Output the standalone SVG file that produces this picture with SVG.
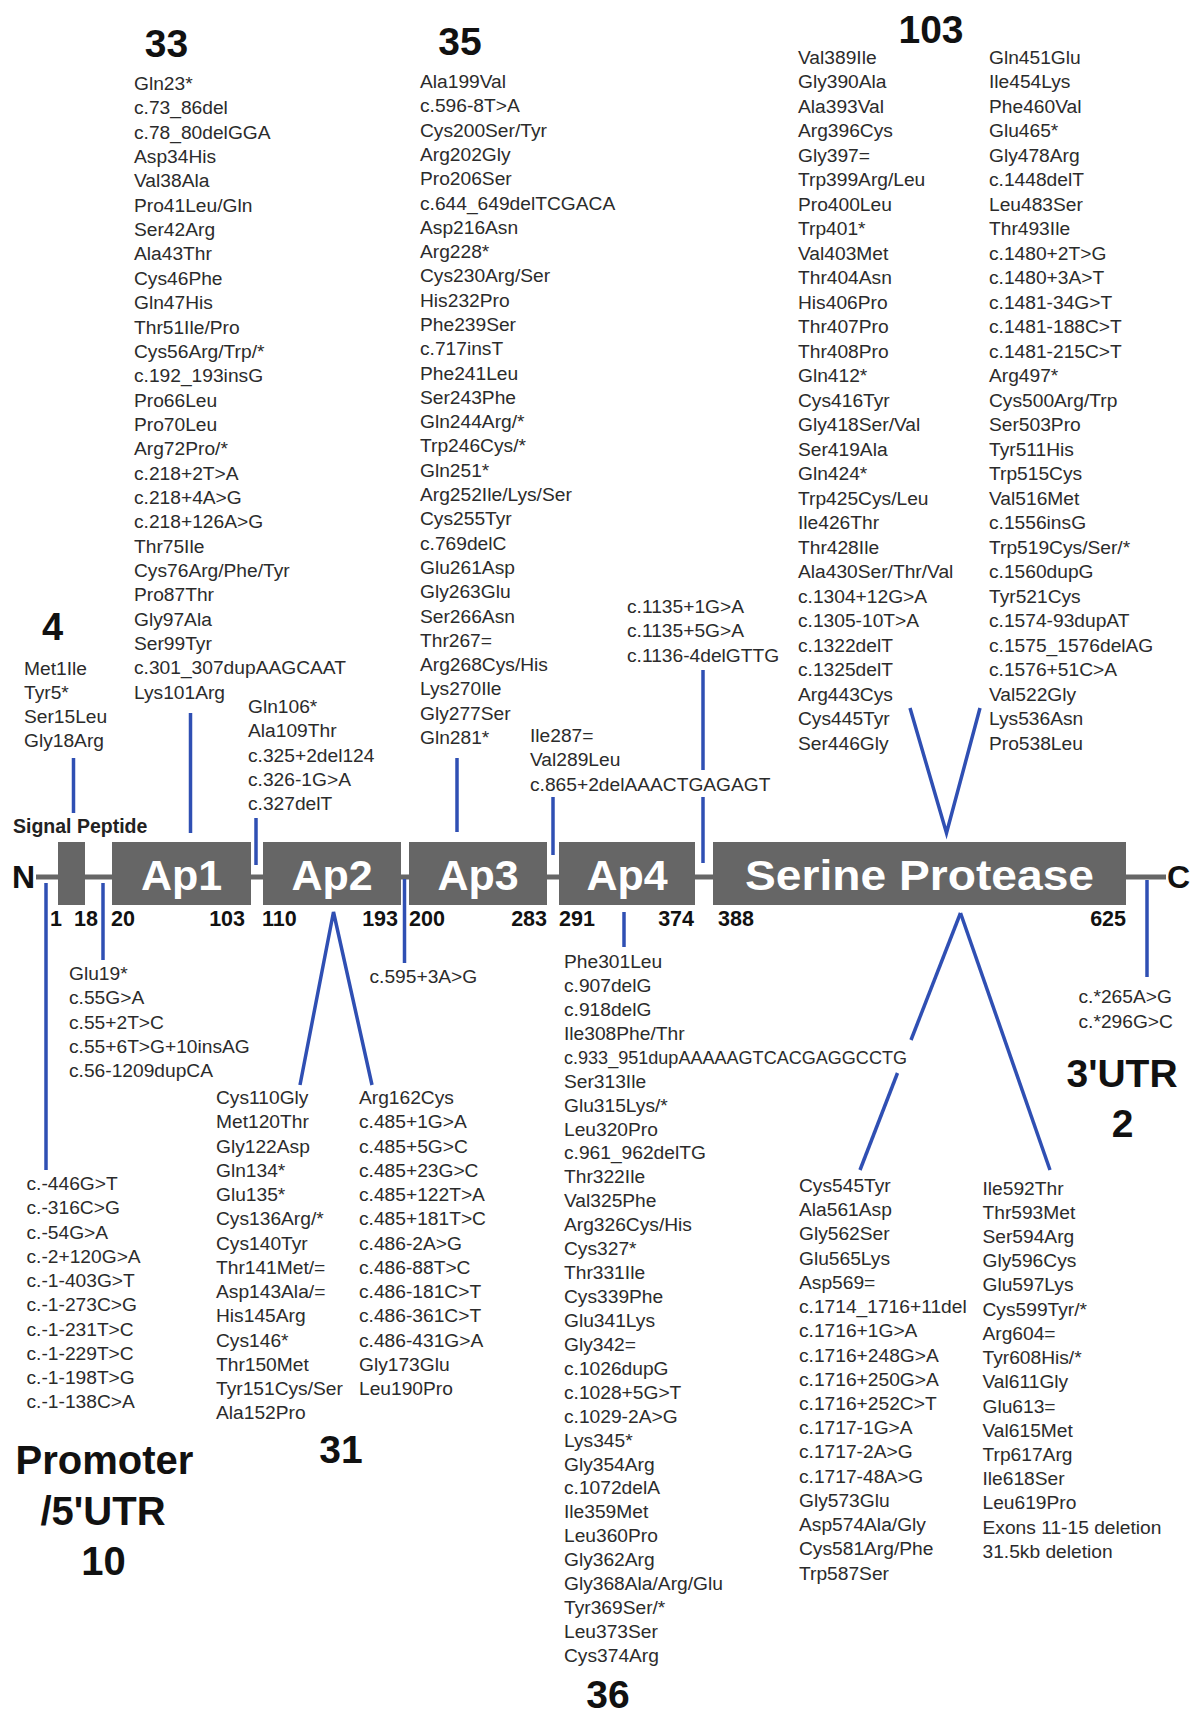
<svg xmlns="http://www.w3.org/2000/svg" width="1190" height="1716" viewBox="0 0 1190 1716">
<style>
.t{font-family:"Liberation Sans",Arial,sans-serif;font-size:19.2px;fill:#2b2b2b}
.big{font-family:"Liberation Sans",Arial,sans-serif;font-size:39px;font-weight:bold;fill:#111;text-anchor:middle}
.num{font-family:"Liberation Sans",Arial,sans-serif;font-size:21.5px;font-weight:bold;fill:#111}
.box{fill:#666666}
.bl{font-family:"Liberation Sans",Arial,sans-serif;font-size:43px;font-weight:bold;fill:#ffffff;text-anchor:middle}
.term{font-family:"Liberation Sans",Arial,sans-serif;font-size:32px;font-weight:bold;fill:#111}
.c{stroke:#2f4fb3;stroke-width:3.5;fill:none}
</style>
<rect width="1190" height="1716" fill="#ffffff"/>

<g id="protein">
<line x1="36" y1="877" x2="1166" y2="877" stroke="#666666" stroke-width="5"/>
<rect class="box" x="58" y="842" width="27" height="63"/>
<rect class="box" x="112" y="842" width="139" height="63"/>
<rect class="box" x="263" y="842" width="138" height="63"/>
<rect class="box" x="409" y="842" width="138" height="63"/>
<rect class="box" x="559" y="842" width="136" height="63"/>
<rect class="box" x="713" y="842" width="413" height="63"/>
<text class="bl" x="181.5" y="890">Ap1</text>
<text class="bl" x="332" y="890">Ap2</text>
<text class="bl" x="478" y="890">Ap3</text>
<text class="bl" x="627" y="890">Ap4</text>
<text class="bl" x="919.5" y="890" textLength="349" lengthAdjust="spacingAndGlyphs">Serine Protease</text>
<text class="term" x="12" y="888">N</text>
<text class="term" x="1167" y="888">C</text>
<text x="13" y="833" style="font-family:'Liberation Sans',Arial,sans-serif;font-size:19.5px;font-weight:bold;fill:#222">Signal Peptide</text>
<text class="num" x="50" y="926">1</text>
<text class="num" x="74" y="926">18</text>
<text class="num" x="111" y="926">20</text>
<text class="num" x="245" y="926" text-anchor="end">103</text>
<text class="num" x="262" y="926">110</text>
<text class="num" x="398" y="926" text-anchor="end">193</text>
<text class="num" x="409" y="926">200</text>
<text class="num" x="547" y="926" text-anchor="end">283</text>
<text class="num" x="559" y="926">291</text>
<text class="num" x="694" y="926" text-anchor="end">374</text>
<text class="num" x="718" y="926">388</text>
<text class="num" x="1126" y="926" text-anchor="end">625</text>
</g>

<g id="connectors">
<line class="c" x1="73.5" y1="758" x2="73.5" y2="813"/>
<line class="c" x1="190.5" y1="713" x2="190.5" y2="833"/>
<line class="c" x1="256" y1="818" x2="256" y2="865"/>
<line class="c" x1="457" y1="758" x2="457" y2="832"/>
<line class="c" x1="553" y1="797" x2="553" y2="855"/>
<line class="c" x1="703" y1="670" x2="703" y2="770"/>
<line class="c" x1="703" y1="797" x2="703" y2="863"/>
<polyline class="c" points="910,708 946.5,833 980,708"/>
<line class="c" x1="46" y1="883" x2="46" y2="1170"/>
<line class="c" x1="103" y1="883" x2="103" y2="960"/>
<polyline class="c" points="300,1085 333.5,912 372,1085"/>
<line class="c" x1="404.5" y1="879" x2="404.5" y2="963"/>
<line class="c" x1="624" y1="912" x2="624" y2="947"/>
<line class="c" x1="960.5" y1="913" x2="911" y2="1040"/>
<line class="c" x1="897.5" y1="1073" x2="860" y2="1170"/>
<line class="c" x1="960.5" y1="913" x2="1050" y2="1170"/>
<line class="c" x1="1147" y1="880" x2="1147" y2="977"/>
</g>

<g id="label-signal">
<text class="big" x="52.5" y="640" style="font-size:38px">4</text>
<text class="t" x="24" y="675"><tspan x="24" dy="0">Met1Ile</tspan><tspan x="24" dy="24.1">Tyr5*</tspan><tspan x="24" dy="24.1">Ser15Leu</tspan><tspan x="24" dy="24.1">Gly18Arg</tspan></text>
</g>

<g id="label-ap1">
<text class="big" x="166.5" y="57">33</text>
<text class="t" x="134" y="90"><tspan x="134" dy="0">Gln23*</tspan><tspan x="134" dy="24.35">c.73_86del</tspan><tspan x="134" dy="24.35">c.78_80delGGA</tspan><tspan x="134" dy="24.35">Asp34His</tspan><tspan x="134" dy="24.35">Val38Ala</tspan><tspan x="134" dy="24.35">Pro41Leu/Gln</tspan><tspan x="134" dy="24.35">Ser42Arg</tspan><tspan x="134" dy="24.35">Ala43Thr</tspan><tspan x="134" dy="24.35">Cys46Phe</tspan><tspan x="134" dy="24.35">Gln47His</tspan><tspan x="134" dy="24.35">Thr51Ile/Pro</tspan><tspan x="134" dy="24.35">Cys56Arg/Trp/*</tspan><tspan x="134" dy="24.35">c.192_193insG</tspan><tspan x="134" dy="24.35">Pro66Leu</tspan><tspan x="134" dy="24.35">Pro70Leu</tspan><tspan x="134" dy="24.35">Arg72Pro/*</tspan><tspan x="134" dy="24.35">c.218+2T&gt;A</tspan><tspan x="134" dy="24.35">c.218+4A&gt;G</tspan><tspan x="134" dy="24.35">c.218+126A&gt;G</tspan><tspan x="134" dy="24.35">Thr75Ile</tspan><tspan x="134" dy="24.35">Cys76Arg/Phe/Tyr</tspan><tspan x="134" dy="24.35">Pro87Thr</tspan><tspan x="134" dy="24.35">Gly97Ala</tspan><tspan x="134" dy="24.35">Ser99Tyr</tspan><tspan x="134" dy="24.35">c.301_307dupAAGCAAT</tspan><tspan x="134" dy="24.35">Lys101Arg</tspan></text>
</g>

<g id="label-ap1-ap2">
<text class="t" x="248" y="713"><tspan x="248" dy="0">Gln106*</tspan><tspan x="248" dy="24.3">Ala109Thr</tspan><tspan x="248" dy="24.3">c.325+2del124</tspan><tspan x="248" dy="24.3">c.326-1G&gt;A</tspan><tspan x="248" dy="24.3">c.327delT</tspan></text>
</g>

<g id="label-ap3">
<text class="big" x="460" y="55">35</text>
<text class="t" x="420" y="88"><tspan x="420" dy="0">Ala199Val</tspan><tspan x="420" dy="24.3">c.596-8T&gt;A</tspan><tspan x="420" dy="24.3">Cys200Ser/Tyr</tspan><tspan x="420" dy="24.3">Arg202Gly</tspan><tspan x="420" dy="24.3">Pro206Ser</tspan><tspan x="420" dy="24.3">c.644_649delTCGACA</tspan><tspan x="420" dy="24.3">Asp216Asn</tspan><tspan x="420" dy="24.3">Arg228*</tspan><tspan x="420" dy="24.3">Cys230Arg/Ser</tspan><tspan x="420" dy="24.3">His232Pro</tspan><tspan x="420" dy="24.3">Phe239Ser</tspan><tspan x="420" dy="24.3">c.717insT</tspan><tspan x="420" dy="24.3">Phe241Leu</tspan><tspan x="420" dy="24.3">Ser243Phe</tspan><tspan x="420" dy="24.3">Gln244Arg/*</tspan><tspan x="420" dy="24.3">Trp246Cys/*</tspan><tspan x="420" dy="24.3">Gln251*</tspan><tspan x="420" dy="24.3">Arg252Ile/Lys/Ser</tspan><tspan x="420" dy="24.3">Cys255Tyr</tspan><tspan x="420" dy="24.3">c.769delC</tspan><tspan x="420" dy="24.3">Glu261Asp</tspan><tspan x="420" dy="24.3">Gly263Glu</tspan><tspan x="420" dy="24.3">Ser266Asn</tspan><tspan x="420" dy="24.3">Thr267=</tspan><tspan x="420" dy="24.3">Arg268Cys/His</tspan><tspan x="420" dy="24.3">Lys270Ile</tspan><tspan x="420" dy="24.3">Gly277Ser</tspan><tspan x="420" dy="24.3">Gln281*</tspan></text>
</g>

<g id="label-ap3-ap4">
<text class="t" x="530" y="742"><tspan x="530" dy="0">Ile287=</tspan><tspan x="530" dy="24.3">Val289Leu</tspan><tspan x="530" dy="24.3">c.865+2delAAACTGAGAGT</tspan></text>
</g>

<g id="label-ap4-sp">
<text class="t" x="627" y="613"><tspan x="627" dy="0">c.1135+1G&gt;A</tspan><tspan x="627" dy="24.3">c.1135+5G&gt;A</tspan><tspan x="627" dy="24.3">c.1136-4delGTTG</tspan></text>
</g>

<g id="label-sp-top">
<text class="big" x="931" y="43">103</text>
<text class="t" x="798" y="63.5"><tspan x="798" dy="0">Val389Ile</tspan><tspan x="798" dy="24.5">Gly390Ala</tspan><tspan x="798" dy="24.5">Ala393Val</tspan><tspan x="798" dy="24.5">Arg396Cys</tspan><tspan x="798" dy="24.5">Gly397=</tspan><tspan x="798" dy="24.5">Trp399Arg/Leu</tspan><tspan x="798" dy="24.5">Pro400Leu</tspan><tspan x="798" dy="24.5">Trp401*</tspan><tspan x="798" dy="24.5">Val403Met</tspan><tspan x="798" dy="24.5">Thr404Asn</tspan><tspan x="798" dy="24.5">His406Pro</tspan><tspan x="798" dy="24.5">Thr407Pro</tspan><tspan x="798" dy="24.5">Thr408Pro</tspan><tspan x="798" dy="24.5">Gln412*</tspan><tspan x="798" dy="24.5">Cys416Tyr</tspan><tspan x="798" dy="24.5">Gly418Ser/Val</tspan><tspan x="798" dy="24.5">Ser419Ala</tspan><tspan x="798" dy="24.5">Gln424*</tspan><tspan x="798" dy="24.5">Trp425Cys/Leu</tspan><tspan x="798" dy="24.5">Ile426Thr</tspan><tspan x="798" dy="24.5">Thr428Ile</tspan><tspan x="798" dy="24.5">Ala430Ser/Thr/Val</tspan><tspan x="798" dy="24.5">c.1304+12G&gt;A</tspan><tspan x="798" dy="24.5">c.1305-10T&gt;A</tspan><tspan x="798" dy="24.5">c.1322delT</tspan><tspan x="798" dy="24.5">c.1325delT</tspan><tspan x="798" dy="24.5">Arg443Cys</tspan><tspan x="798" dy="24.5">Cys445Tyr</tspan><tspan x="798" dy="24.5">Ser446Gly</tspan></text>
<text class="t" x="989" y="63.5"><tspan x="989" dy="0">Gln451Glu</tspan><tspan x="989" dy="24.5">Ile454Lys</tspan><tspan x="989" dy="24.5">Phe460Val</tspan><tspan x="989" dy="24.5">Glu465*</tspan><tspan x="989" dy="24.5">Gly478Arg</tspan><tspan x="989" dy="24.5">c.1448delT</tspan><tspan x="989" dy="24.5">Leu483Ser</tspan><tspan x="989" dy="24.5">Thr493Ile</tspan><tspan x="989" dy="24.5">c.1480+2T&gt;G</tspan><tspan x="989" dy="24.5">c.1480+3A&gt;T</tspan><tspan x="989" dy="24.5">c.1481-34G&gt;T</tspan><tspan x="989" dy="24.5">c.1481-188C&gt;T</tspan><tspan x="989" dy="24.5">c.1481-215C&gt;T</tspan><tspan x="989" dy="24.5">Arg497*</tspan><tspan x="989" dy="24.5">Cys500Arg/Trp</tspan><tspan x="989" dy="24.5">Ser503Pro</tspan><tspan x="989" dy="24.5">Tyr511His</tspan><tspan x="989" dy="24.5">Trp515Cys</tspan><tspan x="989" dy="24.5">Val516Met</tspan><tspan x="989" dy="24.5">c.1556insG</tspan><tspan x="989" dy="24.5">Trp519Cys/Ser/*</tspan><tspan x="989" dy="24.5">c.1560dupG</tspan><tspan x="989" dy="24.5">Tyr521Cys</tspan><tspan x="989" dy="24.5">c.1574-93dupAT</tspan><tspan x="989" dy="24.5">c.1575_1576delAG</tspan><tspan x="989" dy="24.5">c.1576+51C&gt;A</tspan><tspan x="989" dy="24.5">Val522Gly</tspan><tspan x="989" dy="24.5">Lys536Asn</tspan><tspan x="989" dy="24.5">Pro538Leu</tspan></text>
</g>

<g id="label-promoter">
<text class="t" x="26.5" y="1190"><tspan x="26.5" dy="0">c.-446G&gt;T</tspan><tspan x="26.5" dy="24.25">c.-316C&gt;G</tspan><tspan x="26.5" dy="24.25">c.-54G&gt;A</tspan><tspan x="26.5" dy="24.25">c.-2+120G&gt;A</tspan><tspan x="26.5" dy="24.25">c.-1-403G&gt;T</tspan><tspan x="26.5" dy="24.25">c.-1-273C&gt;G</tspan><tspan x="26.5" dy="24.25">c.-1-231T&gt;C</tspan><tspan x="26.5" dy="24.25">c.-1-229T&gt;C</tspan><tspan x="26.5" dy="24.25">c.-1-198T&gt;G</tspan><tspan x="26.5" dy="24.25">c.-1-138C&gt;A</tspan></text>
<text class="big" x="104.5" y="1474" style="font-size:40px">Promoter</text>
<text class="big" x="103" y="1525" style="font-size:40px">/5'UTR</text>
<text class="big" x="103.5" y="1575" style="font-size:40px">10</text>
</g>

<g id="label-sp-ap1">
<text class="t" x="69" y="980"><tspan x="69" dy="0">Glu19*</tspan><tspan x="69" dy="24.3">c.55G&gt;A</tspan><tspan x="69" dy="24.3">c.55+2T&gt;C</tspan><tspan x="69" dy="24.3">c.55+6T&gt;G+10insAG</tspan><tspan x="69" dy="24.3">c.56-1209dupCA</tspan></text>
</g>

<g id="label-ap2">
<text class="t" x="216" y="1104"><tspan x="216" dy="0">Cys110Gly</tspan><tspan x="216" dy="24.25">Met120Thr</tspan><tspan x="216" dy="24.25">Gly122Asp</tspan><tspan x="216" dy="24.25">Gln134*</tspan><tspan x="216" dy="24.25">Glu135*</tspan><tspan x="216" dy="24.25">Cys136Arg/*</tspan><tspan x="216" dy="24.25">Cys140Tyr</tspan><tspan x="216" dy="24.25">Thr141Met/=</tspan><tspan x="216" dy="24.25">Asp143Ala/=</tspan><tspan x="216" dy="24.25">His145Arg</tspan><tspan x="216" dy="24.25">Cys146*</tspan><tspan x="216" dy="24.25">Thr150Met</tspan><tspan x="216" dy="24.25">Tyr151Cys/Ser</tspan><tspan x="216" dy="24.25">Ala152Pro</tspan></text>
<text class="t" x="359" y="1104"><tspan x="359" dy="0">Arg162Cys</tspan><tspan x="359" dy="24.25">c.485+1G&gt;A</tspan><tspan x="359" dy="24.25">c.485+5G&gt;C</tspan><tspan x="359" dy="24.25">c.485+23G&gt;C</tspan><tspan x="359" dy="24.25">c.485+122T&gt;A</tspan><tspan x="359" dy="24.25">c.485+181T&gt;C</tspan><tspan x="359" dy="24.25">c.486-2A&gt;G</tspan><tspan x="359" dy="24.25">c.486-88T&gt;C</tspan><tspan x="359" dy="24.25">c.486-181C&gt;T</tspan><tspan x="359" dy="24.25">c.486-361C&gt;T</tspan><tspan x="359" dy="24.25">c.486-431G&gt;A</tspan><tspan x="359" dy="24.25">Gly173Glu</tspan><tspan x="359" dy="24.25">Leu190Pro</tspan></text>
<text class="big" x="341" y="1463">31</text>
</g>

<g id="label-ap2-ap3">
<text class="t" x="369.5" y="983">c.595+3A&gt;G</text>
</g>

<g id="label-ap4">
<text class="t" x="564" y="968"><tspan x="564" dy="0">Phe301Leu</tspan><tspan x="564" dy="23.93">c.907delG</tspan><tspan x="564" dy="23.93">c.918delG</tspan><tspan x="564" dy="23.93">Ile308Phe/Thr</tspan></text>
<text class="t" x="564" y="1063.7" textLength="343" lengthAdjust="spacingAndGlyphs">c.933_951dupAAAAAGTCACGAGGCCTG</text>
<text class="t" x="564" y="1087.65"><tspan x="564" dy="0">Ser313Ile</tspan><tspan x="564" dy="23.93">Glu315Lys/*</tspan><tspan x="564" dy="23.93">Leu320Pro</tspan><tspan x="564" dy="23.93">c.961_962delTG</tspan><tspan x="564" dy="23.93">Thr322Ile</tspan><tspan x="564" dy="23.93">Val325Phe</tspan><tspan x="564" dy="23.93">Arg326Cys/His</tspan><tspan x="564" dy="23.93">Cys327*</tspan><tspan x="564" dy="23.93">Thr331Ile</tspan><tspan x="564" dy="23.93">Cys339Phe</tspan><tspan x="564" dy="23.93">Glu341Lys</tspan><tspan x="564" dy="23.93">Gly342=</tspan><tspan x="564" dy="23.93">c.1026dupG</tspan><tspan x="564" dy="23.93">c.1028+5G&gt;T</tspan><tspan x="564" dy="23.93">c.1029-2A&gt;G</tspan><tspan x="564" dy="23.93">Lys345*</tspan><tspan x="564" dy="23.93">Gly354Arg</tspan><tspan x="564" dy="23.93">c.1072delA</tspan><tspan x="564" dy="23.93">Ile359Met</tspan><tspan x="564" dy="23.93">Leu360Pro</tspan><tspan x="564" dy="23.93">Gly362Arg</tspan><tspan x="564" dy="23.93">Gly368Ala/Arg/Glu</tspan><tspan x="564" dy="23.93">Tyr369Ser/*</tspan><tspan x="564" dy="23.93">Leu373Ser</tspan><tspan x="564" dy="23.93">Cys374Arg</tspan></text>
<text class="big" x="608" y="1708">36</text>
</g>

<g id="label-sp-bottom">
<text class="t" x="799" y="1192"><tspan x="799" dy="0">Cys545Tyr</tspan><tspan x="799" dy="24.22">Ala561Asp</tspan><tspan x="799" dy="24.22">Gly562Ser</tspan><tspan x="799" dy="24.22">Glu565Lys</tspan><tspan x="799" dy="24.22">Asp569=</tspan><tspan x="799" dy="24.22">c.1714_1716+11del</tspan><tspan x="799" dy="24.22">c.1716+1G&gt;A</tspan><tspan x="799" dy="24.22">c.1716+248G&gt;A</tspan><tspan x="799" dy="24.22">c.1716+250G&gt;A</tspan><tspan x="799" dy="24.22">c.1716+252C&gt;T</tspan><tspan x="799" dy="24.22">c.1717-1G&gt;A</tspan><tspan x="799" dy="24.22">c.1717-2A&gt;G</tspan><tspan x="799" dy="24.22">c.1717-48A&gt;G</tspan><tspan x="799" dy="24.22">Gly573Glu</tspan><tspan x="799" dy="24.22">Asp574Ala/Gly</tspan><tspan x="799" dy="24.22">Cys581Arg/Phe</tspan><tspan x="799" dy="24.22">Trp587Ser</tspan></text>
<text class="t" x="982.5" y="1194.5"><tspan x="982.5" dy="0">Ile592Thr</tspan><tspan x="982.5" dy="24.23">Thr593Met</tspan><tspan x="982.5" dy="24.23">Ser594Arg</tspan><tspan x="982.5" dy="24.23">Gly596Cys</tspan><tspan x="982.5" dy="24.23">Glu597Lys</tspan><tspan x="982.5" dy="24.23">Cys599Tyr/*</tspan><tspan x="982.5" dy="24.23">Arg604=</tspan><tspan x="982.5" dy="24.23">Tyr608His/*</tspan><tspan x="982.5" dy="24.23">Val611Gly</tspan><tspan x="982.5" dy="24.23">Glu613=</tspan><tspan x="982.5" dy="24.23">Val615Met</tspan><tspan x="982.5" dy="24.23">Trp617Arg</tspan><tspan x="982.5" dy="24.23">Ile618Ser</tspan><tspan x="982.5" dy="24.23">Leu619Pro</tspan><tspan x="982.5" dy="24.23">Exons 11-15 deletion</tspan><tspan x="982.5" dy="24.23">31.5kb deletion</tspan></text>
</g>

<g id="label-3utr">
<text class="t" x="1078.5" y="1003"><tspan x="1078.5" dy="0">c.*265A&gt;G</tspan><tspan x="1078.5" dy="25">c.*296G&gt;C</tspan></text>
<text class="big" x="1122" y="1087">3'UTR</text>
<text class="big" x="1122.5" y="1137">2</text>
</g>
</svg>
